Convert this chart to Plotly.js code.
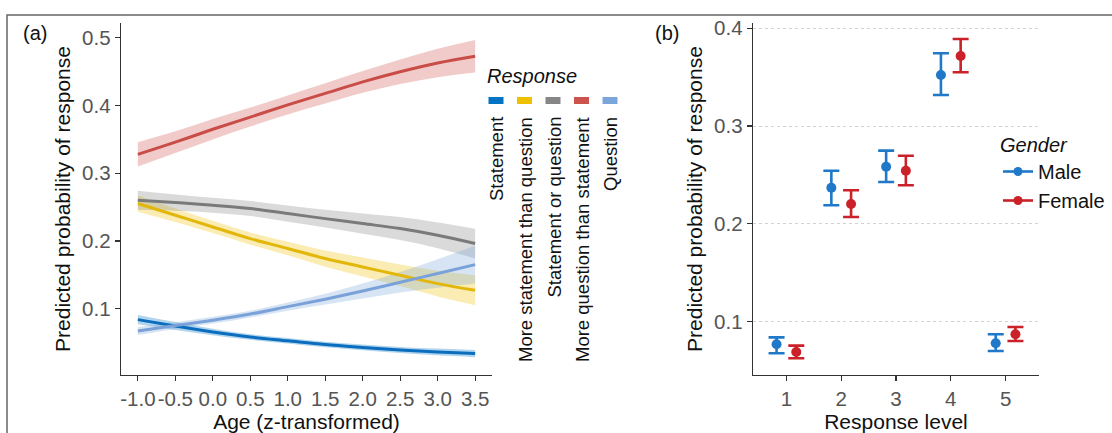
<!DOCTYPE html>
<html>
<head>
<meta charset="utf-8">
<script src="https://cdn.plot.ly/plotly-3.0.1.min.js"></script>
<style>
  html, body { margin: 0; padding: 0; background: #fff; }
  #chart { width: 1112px; height: 433px; }
</style>
</head>
<body>
<div id="chart"></div>
<script>
// ---------- Panel (a): predicted probability by age, per response ----------
const ages = [-1.0, -0.5, 0.0, 0.5, 1.0, 1.5, 2.0, 2.5, 3.0, 3.5];
const ageTickLabels = ['-1.0', '-0.5', '0.0', '0.5', '1.0', '1.5', '2.0', '2.5', '3.0', '3.5'];

const responseNames = ['Statement', 'More statement than question', 'Statement or question',
                       'More question than statement', 'Question'];

const statementFit = [0.0838, 0.0744, 0.0656, 0.0581, 0.0525, 0.0470, 0.0428, 0.0390, 0.0360, 0.0336];
const statementLo  = [0.0770, 0.0686, 0.0608, 0.0539, 0.0485, 0.0430, 0.0386, 0.0345, 0.0310, 0.0281];
const statementHi  = [0.0906, 0.0802, 0.0704, 0.0623, 0.0565, 0.0510, 0.0470, 0.0435, 0.0410, 0.0391];

const moreStatementFit = [0.2553, 0.2380, 0.2207, 0.2035, 0.1888, 0.1740, 0.1616, 0.1493, 0.1370, 0.1272];
const moreStatementLo  = [0.2433, 0.2280, 0.2117, 0.1945, 0.1788, 0.1620, 0.1476, 0.1333, 0.1180, 0.1052];
const moreStatementHi  = [0.2673, 0.2480, 0.2297, 0.2125, 0.1988, 0.1860, 0.1756, 0.1653, 0.1560, 0.1492];

const eitherFit = [0.2602, 0.2567, 0.2528, 0.2480, 0.2405, 0.2330, 0.2257, 0.2183, 0.2084, 0.1962];
const eitherLo  = [0.2462, 0.2447, 0.2418, 0.2370, 0.2285, 0.2200, 0.2107, 0.2013, 0.1894, 0.1742];
const eitherHi  = [0.2742, 0.2687, 0.2638, 0.2590, 0.2525, 0.2460, 0.2407, 0.2353, 0.2274, 0.2182];

const moreQuestionFit = [0.328, 0.346, 0.365, 0.383, 0.401, 0.418, 0.435, 0.450, 0.463, 0.473];
const moreQuestionLo  = [0.310, 0.330, 0.350, 0.369, 0.387, 0.403, 0.419, 0.432, 0.442, 0.449];
const moreQuestionHi  = [0.346, 0.362, 0.380, 0.397, 0.415, 0.433, 0.451, 0.468, 0.484, 0.497];

const questionFit = [0.067, 0.075, 0.083, 0.092, 0.103, 0.114, 0.126, 0.139, 0.152, 0.165];
const questionLo  = [0.061, 0.070, 0.078, 0.087, 0.097, 0.106, 0.115, 0.124, 0.131, 0.137];
const questionHi  = [0.073, 0.080, 0.088, 0.097, 0.109, 0.122, 0.137, 0.154, 0.173, 0.193];

// ---------- Panel (b): predicted probability by response level and gender ----------
const responseLevels = [1, 2, 3, 4, 5];
const genderNames = ['Male', 'Female'];
const maleFit = [0.0769, 0.2370, 0.2585, 0.3523, 0.0779];
const maleLo  = [0.0677, 0.2190, 0.2428, 0.3318, 0.0700];
const maleHi  = [0.0840, 0.2544, 0.2749, 0.3744, 0.0871];
const femaleFit = [0.0690, 0.2204, 0.2544, 0.3717, 0.0871];
const femaleLo  = [0.0626, 0.2071, 0.2395, 0.3550, 0.0803];
const femaleHi  = [0.0755, 0.2344, 0.2697, 0.3891, 0.0946];

// ---------- styling ----------
const FONT = 'Liberation Sans, Arial, Helvetica, sans-serif';
const responseColors = ['#0073C2', '#EFC000', '#868686', '#CD534C', '#7AA6DC'];
const responseLineColors = ['#0a6dbd', '#E2B70A', '#7a7a7a', '#C94C47', '#7AA2D8'];
const genderColors = ['#1F78C8', '#CB2128'];
const DODGE = 0.18;
const W = 1112, H = 433;
const px = v => v / W;          // pixel -> paper x
const py = v => 1 - v / H;      // pixel -> paper y

function hexA(hex, a) {
  const n = parseInt(hex.slice(1), 16);
  return `rgba(${(n >> 16) & 255},${(n >> 8) & 255},${n & 255},${a})`;
}

const series = [
  [statementFit, statementLo, statementHi],
  [moreStatementFit, moreStatementLo, moreStatementHi],
  [eitherFit, eitherLo, eitherHi],
  [moreQuestionFit, moreQuestionLo, moreQuestionHi],
  [questionFit, questionLo, questionHi]
];

const traces = [];
// confidence ribbons first, then the fitted lines on top
series.forEach(([fit, lo, hi], i) => {
  traces.push({
    x: ages, y: lo, xaxis: 'x', yaxis: 'y', mode: 'lines',
    line: { width: 0, shape: 'spline', color: 'rgba(0,0,0,0)' },
    showlegend: false, hoverinfo: 'skip'
  });
  traces.push({
    x: ages, y: hi, xaxis: 'x', yaxis: 'y', mode: 'lines', fill: 'tonexty',
    fillcolor: hexA(responseColors[i], 0.3),
    line: { width: 0, shape: 'spline', color: 'rgba(0,0,0,0)' },
    showlegend: false, hoverinfo: 'skip'
  });
});
series.forEach(([fit], i) => {
  traces.push({
    x: ages, y: fit, xaxis: 'x', yaxis: 'y', mode: 'lines', name: responseNames[i],
    line: { width: 3, shape: 'spline', color: responseLineColors[i] },
    showlegend: false
  });
});

// gender point estimates with confidence intervals
const genderSets = [[maleFit, maleLo, maleHi], [femaleFit, femaleLo, femaleHi]];
genderSets.forEach(([fit, lo, hi], g) => {
  const off = g === 0 ? -DODGE : DODGE;
  traces.push({
    x: responseLevels.map(v => v + off), y: fit, xaxis: 'x2', yaxis: 'y2',
    mode: 'markers', name: genderNames[g], showlegend: false,
    marker: { size: 10, color: genderColors[g] },
    error_y: {
      type: 'data', symmetric: false,
      array: hi.map((h, k) => h - fit[k]),
      arrayminus: lo.map((l, k) => fit[k] - l),
      color: genderColors[g], thickness: 2.6, width: 8
    }
  });
});
// legend entries for the gender key
genderNames.forEach((name, g) => {
  traces.push({
    x: [null], y: [null], xaxis: 'x2', yaxis: 'y2', mode: 'lines+markers', name: name,
    line: { color: genderColors[g], width: 2.6 },
    marker: { size: 9, color: genderColors[g] }
  });
});

const axisCommon = {
  showline: true, linecolor: '#333', linewidth: 1.3, mirror: false,
  ticks: 'outside', ticklen: 5, tickwidth: 1.2, tickcolor: '#333',
  zeroline: false, automargin: false,
  tickfont: { family: FONT, size: 20.5, color: '#555' },
  fixedrange: true
};
const titleFont = { family: FONT, size: 21, color: '#111' };

const yDomain = [py(375), py(23)];

// Response legend: rotated labels under coloured keys
const keyX0 = 496, keyStep = 28.5;
const shapes = [{
  type: 'rect', xref: 'paper', yref: 'paper',
  x0: px(7), x1: 1.02, y0: -0.05, y1: py(15),
  line: { color: '#666', width: 1.5 }, fillcolor: 'rgba(0,0,0,0)', layer: 'below'
}];
const annotations = [
  { text: '(a)', xref: 'paper', yref: 'paper', x: px(35), y: py(33), showarrow: false,
    xanchor: 'center', yanchor: 'middle', font: { family: FONT, size: 20, color: '#111' } },
  { text: '(b)', xref: 'paper', yref: 'paper', x: px(667), y: py(33), showarrow: false,
    xanchor: 'center', yanchor: 'middle', font: { family: FONT, size: 20, color: '#111' } },
  { text: '<i>Response</i>', xref: 'paper', yref: 'paper', x: px(485), y: py(76), showarrow: false,
    xanchor: 'left', yanchor: 'middle', font: { family: FONT, size: 20, color: '#111' } }
];
responseNames.forEach((name, i) => {
  const cx = keyX0 + i * keyStep;
  shapes.push({
    type: 'rect', xref: 'paper', yref: 'paper',
    x0: px(cx - 7.5), x1: px(cx + 7.5), y0: py(104), y1: py(97),
    line: { width: 0 }, fillcolor: responseColors[i]
  });
  annotations.push({
    text: name, xref: 'paper', yref: 'paper', x: px(cx + 1), y: py(115),
    showarrow: false, textangle: -90, xanchor: 'center', yanchor: 'top',
    font: { family: FONT, size: 18.5, color: '#111' }
  });
});

const layout = {
  width: W, height: H,
  margin: { l: 0, r: 0, t: 0, b: 0 },
  paper_bgcolor: '#fff', plot_bgcolor: '#fff',
  font: { family: FONT },
  showlegend: true,
  xaxis: Object.assign({}, axisCommon, {
    domain: [px(121), px(492)], anchor: 'y',
    range: [-1.225, 3.725], tickvals: ages, ticktext: ageTickLabels, showgrid: false,
    title: { text: 'Age (z-transformed)', font: titleFont, standoff: 3 }
  }),
  yaxis: Object.assign({}, axisCommon, {
    domain: yDomain, anchor: 'x',
    range: [0.002, 0.522], dtick: 0.1, tick0: 0, tickformat: '.1f', showgrid: false,
    title: { text: 'Predicted probability of response', font: titleFont, standoff: 5 }
  }),
  xaxis2: Object.assign({}, axisCommon, {
    domain: [px(753), px(1039)], anchor: 'y2',
    range: [0.39, 5.61], tickvals: responseLevels, ticktext: responseLevels.map(String), showgrid: false,
    title: { text: 'Response level', font: titleFont, standoff: 3 }
  }),
  yaxis2: Object.assign({}, axisCommon, {
    domain: yDomain, anchor: 'x2',
    range: [0.0455, 0.4054], tickvals: [0.1, 0.2, 0.3, 0.4], tickformat: '.1f',
    showgrid: true, gridcolor: '#d2d2d2', griddash: 'dot', gridwidth: 1,
    title: { text: 'Predicted probability of response', font: titleFont, standoff: 5 }
  }),
  legend: {
    x: px(998), y: py(126), xanchor: 'left', yanchor: 'top',
    bgcolor: 'rgba(0,0,0,0)', borderwidth: 0, traceorder: 'normal',
    title: { text: 'Gender', font: { family: FONT, size: 20, color: '#111', style: 'italic' } },
    font: { family: FONT, size: 20, color: '#111' },
    itemwidth: 30, tracegroupgap: 0
  },
  shapes: shapes,
  annotations: annotations
};

Plotly.newPlot('chart', traces, layout, { displayModeBar: false, staticPlot: true });
</script>
</body>
</html>
